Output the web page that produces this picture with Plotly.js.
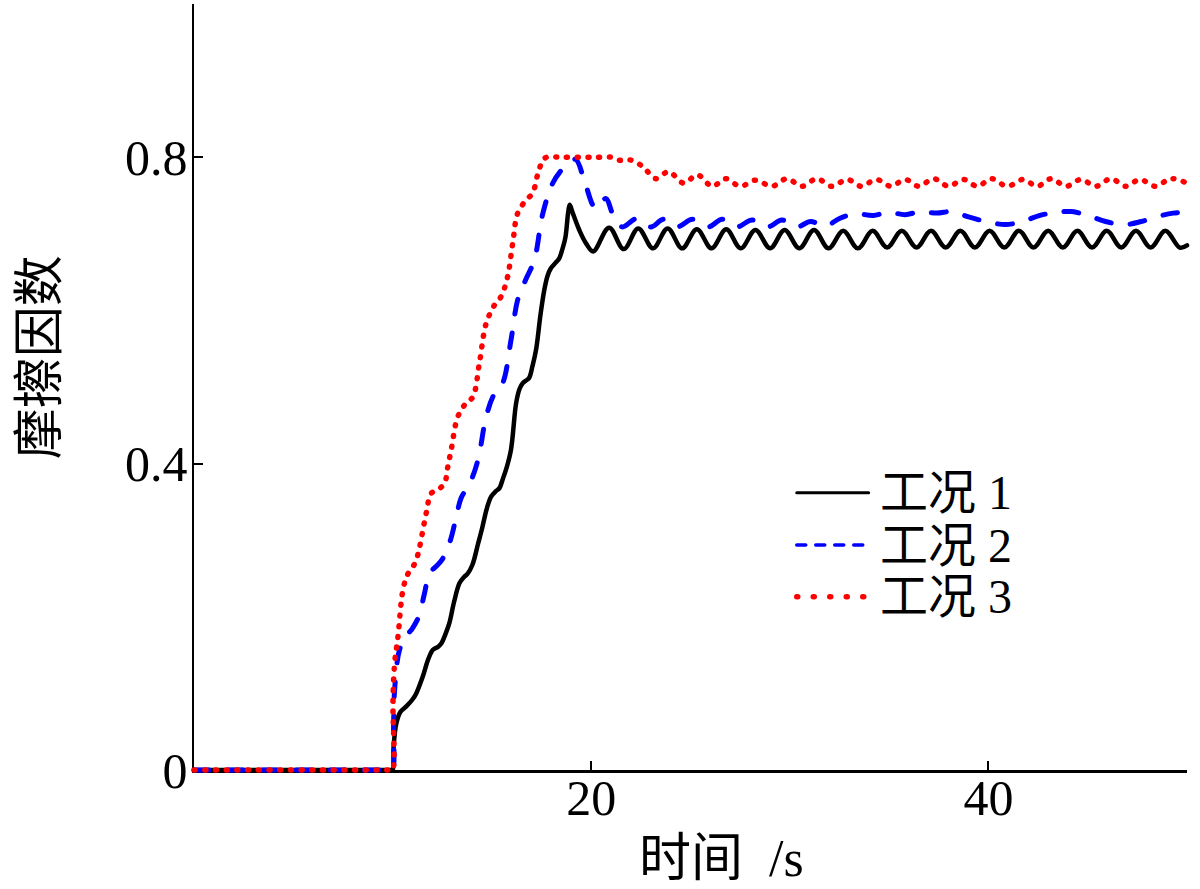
<!DOCTYPE html>
<html>
<head>
<meta charset="utf-8">
<script src="https://cdn.plot.ly/plotly-3.0.1.min.js"></script>
<style>
  html, body { margin: 0; padding: 0; background: #fff; }
  #chart { width: 1200px; height: 889px; }
  .scatterlayer .trace path.js-line { stroke-linecap: round; stroke-linejoin: round; }
  .layer-above path, .shapelayer path { stroke-linecap: round; }
</style>
</head>
<body>
<div id="chart"></div>
<script>
// 工况 1 — time (s) and friction coefficient
const t1 = [0, 9.9, 10.0, 10.05, 10.19, 10.4, 10.69, 11.0, 11.19, 11.52, 11.8, 12.03, 12.3, 12.45, 12.7, 12.86,
  13.1, 13.37, 13.6, 13.77, 14.02, 14.3, 14.52, 14.75, 14.96, 15.2, 15.38, 15.55, 15.71, 15.96, 16.22, 16.4,
  16.55, 16.75, 16.88, 17.05, 17.22, 17.45, 17.64, 17.8, 17.97, 18.2, 18.39, 18.55, 18.7, 18.85, 18.92, 19.06,
  19.4, 19.73, 20.1,
  20.90, 21.64, 22.37, 23.11, 23.85, 24.58, 25.32, 26.06, 26.80, 27.53, 28.27, 29.01, 29.74, 30.48, 31.22,
  31.95, 32.69, 33.43, 34.17, 34.90, 35.64, 36.38, 37.11, 37.85, 38.59, 39.32, 40.06, 40.80, 41.54, 42.27,
  43.01, 43.75, 44.48, 45.22, 45.96, 46.69, 47.43, 48.17, 48.91, 49.64, 50.0];
const f1 = [0, 0, 0, 0.03, 0.061, 0.076, 0.083, 0.092, 0.100, 0.122, 0.145, 0.157, 0.161, 0.165, 0.180, 0.192,
  0.220, 0.244, 0.252, 0.256, 0.268, 0.295, 0.317, 0.342, 0.357, 0.364, 0.368, 0.380, 0.392, 0.418, 0.479, 0.498,
  0.505, 0.509, 0.512, 0.528, 0.548, 0.595, 0.627, 0.645, 0.655, 0.662, 0.668, 0.680, 0.695, 0.730, 0.738, 0.728,
  0.705, 0.688, 0.677,
  0.708, 0.680, 0.707, 0.681, 0.707, 0.681, 0.706, 0.681, 0.706, 0.681, 0.705, 0.681, 0.705, 0.681, 0.705,
  0.681, 0.704, 0.681, 0.704, 0.682, 0.704, 0.682, 0.704, 0.682, 0.704, 0.682, 0.704, 0.682, 0.704, 0.682,
  0.704, 0.682, 0.704, 0.682, 0.704, 0.682, 0.704, 0.682, 0.704, 0.682, 0.685];

// 工况 2
const t2 = [0, 9.9, 10.0, 10.05, 10.1, 10.35, 10.7, 11.0, 11.31, 11.6, 11.86, 12.2, 12.5, 12.91, 13.2, 13.45,
  13.9, 14.3, 14.71, 15.1, 15.54, 15.96, 16.3, 16.7, 17.14, 17.55, 18.06, 18.56, 19.0, 19.23, 19.65, 20.07,
  20.25, 20.73, 21.1, 21.56, 22.3, 23.0, 23.65, 24.32, 25.1, 25.9, 26.6, 27.33, 28.1, 28.89, 29.6, 30.35,
  31.05, 31.79, 32.5, 33.3, 34.2, 35.0, 35.8, 36.6, 37.4, 38.2, 39.0, 39.9, 40.85, 41.7, 42.6, 43.4, 44.2,
  45.0, 45.9, 46.85, 47.7, 48.6, 49.3, 50.0];
const f2 = [0, 0, 0, 0.06, 0.104, 0.157, 0.175, 0.185, 0.200, 0.230, 0.257, 0.266, 0.275, 0.300, 0.330, 0.355,
  0.375, 0.405, 0.461, 0.490, 0.505, 0.561, 0.614, 0.640, 0.666, 0.725, 0.766, 0.785, 0.795, 0.797, 0.770, 0.738,
  0.733, 0.746, 0.725, 0.709, 0.720, 0.709, 0.719, 0.709, 0.719, 0.709, 0.719, 0.709, 0.718, 0.709, 0.718, 0.709,
  0.716, 0.710, 0.720, 0.726, 0.724, 0.728, 0.725, 0.729, 0.727, 0.729, 0.722, 0.716, 0.712, 0.716, 0.724, 0.728, 0.729,
  0.724, 0.716, 0.712, 0.716, 0.723, 0.727, 0.728];

// 工况 3
const t3 = [0, 9.9, 10.0, 10.02, 10.1, 10.27, 10.52, 10.75, 11.02, 11.2, 11.36, 11.69, 11.94, 12.28, 12.61, 12.78,
  12.95, 13.28, 13.7, 14.04, 14.37, 14.71, 15.13, 15.46, 15.79, 16.05, 16.3, 16.72, 17.05, 17.3, 17.55, 17.75,
  18.5, 19.5, 20.3, 21.0, 21.4, 21.8, 22.24, 22.7, 23.25, 23.9, 24.67, 25.34, 26.1, 26.76, 27.51, 28.28, 29.1,
  29.86, 30.6, 31.37, 32.1, 32.9, 33.6, 34.35, 35.1, 35.8, 36.5, 37.24, 38.0, 38.74, 39.45, 40.15, 40.95, 41.76,
  42.45, 43.17, 43.9, 44.67, 45.4, 46.18, 46.9, 47.64, 48.4, 49.2, 50.0];
const f3 = [0, 0, 0, 0.09, 0.139, 0.174, 0.235, 0.255, 0.265, 0.275, 0.291, 0.335, 0.361, 0.366, 0.374, 0.396,
  0.418, 0.461, 0.479, 0.487, 0.531, 0.583, 0.607, 0.618, 0.644, 0.688, 0.727, 0.744, 0.753, 0.777, 0.795, 0.800,
  0.800, 0.800, 0.800, 0.800, 0.796, 0.797, 0.794, 0.785, 0.772, 0.781, 0.766, 0.777, 0.762, 0.772, 0.762, 0.770, 0.762,
  0.772, 0.762, 0.772, 0.762, 0.771, 0.762, 0.771, 0.762, 0.771, 0.762, 0.772, 0.762, 0.771, 0.762, 0.772, 0.762, 0.771,
  0.762, 0.772, 0.762, 0.771, 0.762, 0.772, 0.762, 0.771, 0.762, 0.772, 0.766];

const caseNames = ['工况 1', '工况 2', '工况 3'];
const caseColors = ['#000000', '#0000ff', '#ff0000'];

const yTickVals = [0, 0.4, 0.8, 1.0];
const yTickText = ['0', '0.4', '0.8', ''];
const xTickVals = [20, 40];
const xTickText = ['20', '40'];

const serif = 'Liberation Serif, "Times New Roman", "Noto Sans CJK SC", serif';
const cjk = 'Liberation Serif, "Noto Sans CJK SC", serif';

const traces = [
  { x: t1, y: f1, name: caseNames[0], mode: 'lines',
    line: { color: caseColors[0], width: 4.5, shape: 'spline', smoothing: 1 } },
  { x: t2, y: f2, name: caseNames[1], mode: 'lines',
    line: { color: caseColors[1], width: 5, shape: 'spline', smoothing: 1, dash: '15px,19px' } },
  { x: t3, y: f3, name: caseNames[2], mode: 'lines',
    line: { color: caseColors[2], width: 5.5, shape: 'spline', smoothing: 1, dash: '1px,9.7px' } }
];

// hand-placed key: sample line + label per case
const keyX0 = 30.35, keyX1 = 33.97, keyTextX = 34.45;
const keyY = [0.362, 0.2937, 0.2262];
const keyDash = ['solid', '9px,10px', '1px,15.5px'];
const keyWidth = [3, 3.5, 5.5];

const shapes = caseNames.map((n, i) => ({
  type: 'line', xref: 'x', yref: 'y', x0: keyX0, x1: keyX1, y0: keyY[i], y1: keyY[i],
  line: { color: caseColors[i], width: keyWidth[i], dash: keyDash[i] }
}));

const annotations = caseNames.map((n, i) => ({
  xref: 'x', yref: 'y', x: keyTextX, y: keyY[i], text: n, showarrow: false,
  xanchor: 'left', yanchor: 'middle', font: { family: cjk, size: 48, color: '#000' }
}));

annotations.push({
  xref: 'paper', yref: 'paper', x: 0.531, y: -0.115, text: '时间&nbsp;&nbsp;/s', showarrow: false,
  xanchor: 'center', yanchor: 'middle', font: { family: cjk, size: 52, color: '#000' }
});
annotations.push({
  xref: 'paper', yref: 'paper', x: -0.155, y: 0.539, text: '摩擦因数', showarrow: false,
  textangle: -90, xanchor: 'center', yanchor: 'middle', font: { family: cjk, size: 51, color: '#000' }
});

const axisCommon = {
  showline: true, linecolor: '#000', linewidth: 2.5, mirror: false,
  ticks: 'inside', ticklen: 9, tickwidth: 2, tickcolor: '#000',
  showgrid: false, zeroline: false, layer: 'below traces',
  tickfont: { family: serif, size: 50, color: '#000' }
};

const layout = {
  width: 1200, height: 889,
  margin: { l: 194, r: 13, t: 4, b: 119, pad: 0 },
  paper_bgcolor: '#fff', plot_bgcolor: '#fff',
  showlegend: false,
  xaxis: Object.assign({}, axisCommon, { range: [0, 50], tickmode: 'array', tickvals: xTickVals, ticktext: xTickText,
    ticklabelstandoff: -18 }),
  yaxis: Object.assign({}, axisCommon, { range: [0, 1], tickmode: 'array', tickvals: yTickVals, ticktext: yTickText,
    ticklabelstandoff: -6 }),
  shapes: shapes,
  annotations: annotations
};

Plotly.newPlot('chart', traces, layout, { staticPlot: true }).then(() => {
  // let the curves lying on the zero line show their full width
  document.querySelectorAll('.cartesianlayer [clip-path]').forEach(el => el.removeAttribute('clip-path'));
});
</script>
</body>
</html>
